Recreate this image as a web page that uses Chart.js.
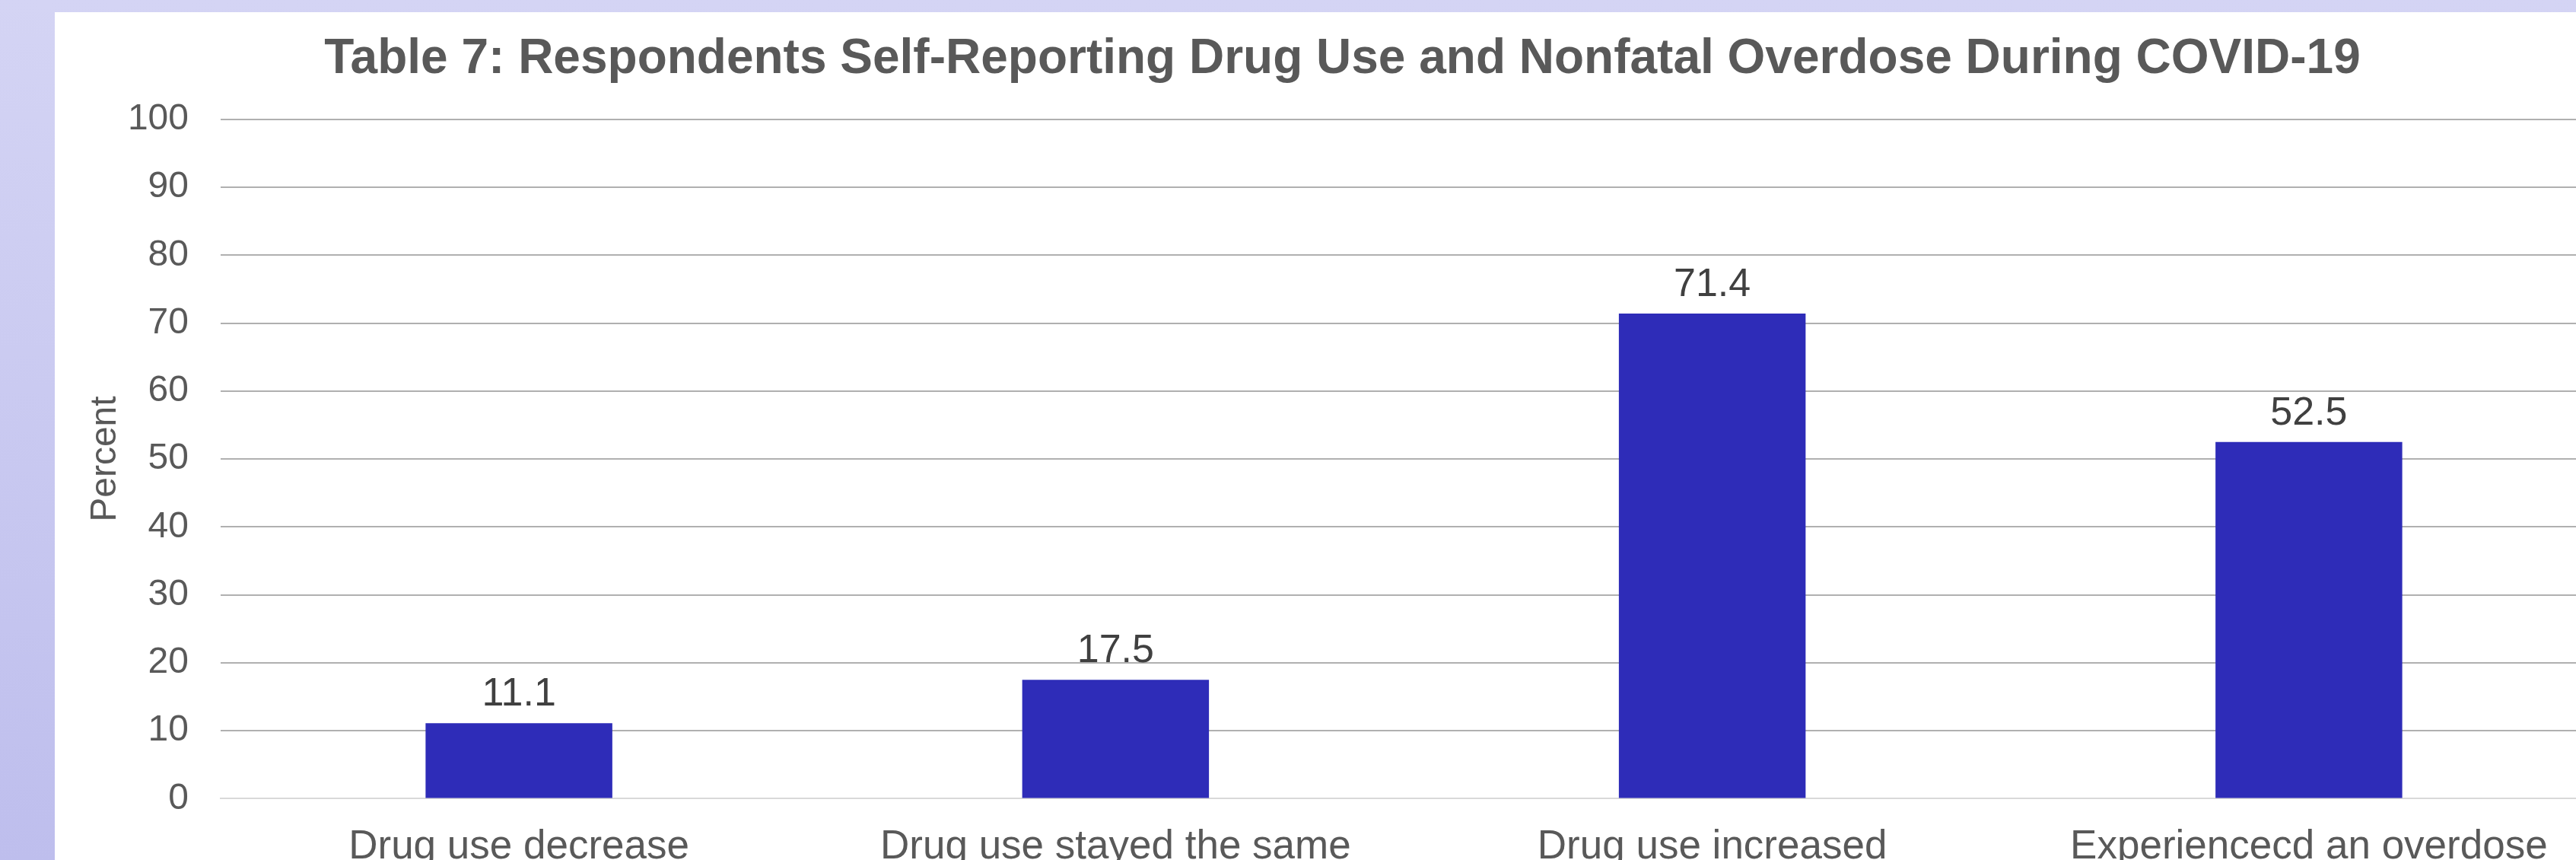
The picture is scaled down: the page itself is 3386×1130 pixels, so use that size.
<!DOCTYPE html>
<html>
<head>
<meta charset="utf-8" />
<script src="https://cdn.jsdelivr.net/npm/chart.js@4"></script>
<style>
  html,
  body {
    margin: 0;
    padding: 0;
    width: 3386px;
    height: 1130px;
    overflow: hidden;
    background: linear-gradient(to bottom, #d4d4f4, #bebeed);
  }
  #panel {
    position: absolute;
    left: 72px;
    top: 16px;
    width: 3314px;
    height: 1114px;
    background: #ffffff;
    overflow: hidden;
  }
  #wrap {
    position: absolute;
    left: 0;
    top: 0;
    width: 3420px;
    height: 1161px;
  }
</style>
</head>
<body>
<div id="panel">
  <div id="wrap"><canvas id="chart"></canvas></div>
</div>
<script>
const chartTitle =
  "Table 7: Respondents Self-Reporting Drug Use and Nonfatal Overdose During COVID-19";
const categories = [
  "Drug use decrease",
  "Drug use stayed the same",
  "Drug use increased",
  "Experiencecd an overdose",
];
const percentValues = [11.1, 17.5, 71.4, 52.5];
const yMin = 0;
const yMax = 100;
const yStep = 10;

const FONT = "'Liberation Sans', Arial, Helvetica, sans-serif";
const barColor = "#2e2cb8";

// value labels above each bar, positions come from the bar elements
const barValueLabels = {
  id: "barValueLabels",
  afterDatasetsDraw(chart) {
    const ctx = chart.ctx;
    ctx.save();
    ctx.font = "52px " + FONT;
    ctx.fillStyle = "#404040";
    ctx.textAlign = "center";
    ctx.textBaseline = "alphabetic";
    chart.getDatasetMeta(0).data.forEach((bar, i) => {
      ctx.fillText(percentValues[i].toFixed(1), bar.x, bar.y - 23);
    });
    ctx.restore();
  },
};

new Chart(document.getElementById("chart").getContext("2d"), {
  type: "bar",
  data: {
    labels: categories,
    datasets: [
      {
        label: "Percent",
        data: percentValues,
        backgroundColor: barColor,
        borderWidth: 0,
        categoryPercentage: 1.0,
        barPercentage: 0.313,
      },
    ],
  },
  options: {
    responsive: true,
    maintainAspectRatio: false,
    animation: false,
    layout: {
      padding: { left: 30, right: 65, top: 0, bottom: 0 },
    },
    scales: {
      x: {
        grid: { display: false, drawTicks: false },
        border: { display: true, color: "#d9d9d9", width: 2 },
        ticks: {
          color: "#595959",
          padding: 32,
          maxRotation: 0,
          autoSkip: false,
          font: { family: FONT, size: 53 },
        },
      },
      y: {
        min: yMin,
        max: yMax,
        border: { display: false },
        // fixed axis width so the plot starts where the original does
        afterFit: (scale) => {
          scale.width = 188;
        },
        grid: {
          drawTicks: false,
          lineWidth: 2,
          color: (c) => (c.tick && c.tick.value === 0 ? "#d9d9d9" : "#b0b0b0"),
        },
        ticks: {
          stepSize: yStep,
          color: "#595959",
          padding: 42,
          font: { family: FONT, size: 48 },
        },
        title: {
          display: true,
          text: "Percent",
          color: "#595959",
          padding: { top: 8, bottom: 0 },
          font: { family: FONT, size: 48 },
        },
      },
    },
    plugins: {
      legend: { display: false },
      tooltip: { enabled: false },
      title: {
        display: true,
        text: chartTitle,
        color: "#595959",
        padding: { top: 24, bottom: 40 },
        font: { family: FONT, size: 64, weight: "bold" },
      },
    },
  },
  plugins: [barValueLabels],
});
</script>
</body>
</html>
